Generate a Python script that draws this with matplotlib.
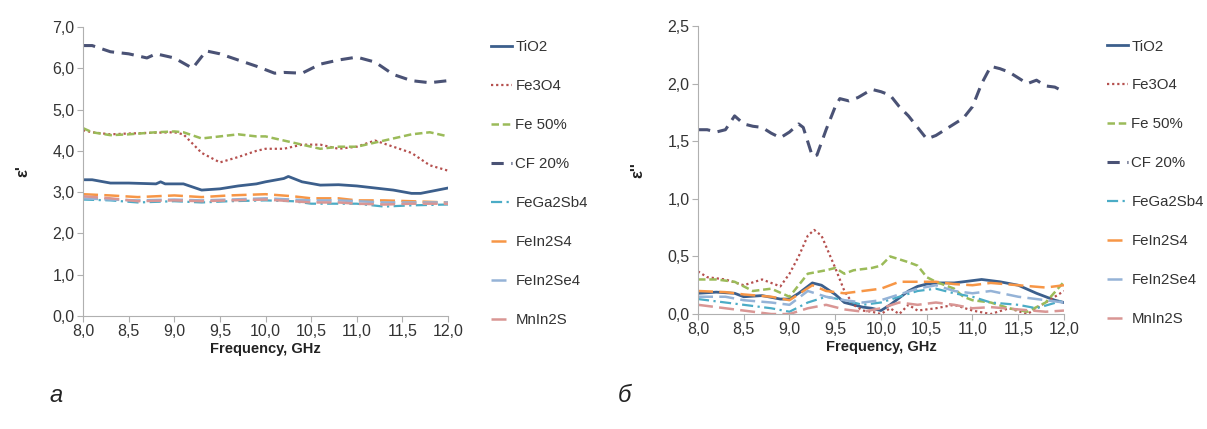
import matplotlib

matplotlib.use("Agg")
import matplotlib.pyplot as plt
from matplotlib.ticker import FuncFormatter

plt.rcParams["font.family"] = ["Liberation Sans Narrow", "Liberation Sans", "DejaVu Sans"]

SERIES = ["TiO2", "Fe3O4", "Fe 50%", "CF 20%", "FeGa2Sb4", "FeIn2S4", "FeIn2Se4", "MnIn2S"]

# eps' (left panel)
re_freq = {
    "TiO2": [8.0, 8.1, 8.3, 8.5, 8.8, 8.85, 8.9, 9.1, 9.3, 9.5, 9.7, 9.9, 10.0, 10.2, 10.25,
             10.4, 10.6, 10.8, 11.0, 11.2, 11.4, 11.6, 11.7, 12.0],
    "Fe3O4": [8.0, 8.1, 8.3, 8.5, 8.8, 9.0, 9.1, 9.3, 9.5, 9.7, 9.9, 10.0, 10.2, 10.4, 10.6,
              10.8, 11.0, 11.2, 11.4, 11.6, 11.8, 12.0],
    "Fe 50%": [8.0, 8.1, 8.3, 8.5, 8.8, 9.0, 9.1, 9.3, 9.5, 9.7, 9.9, 10.0, 10.2, 10.4, 10.6,
               10.8, 11.0, 11.2, 11.4, 11.6, 11.8, 12.0],
    "CF 20%": [8.0, 8.1, 8.3, 8.5, 8.7, 8.8, 9.0, 9.2, 9.35, 9.5, 9.7, 9.9, 10.1, 10.2, 10.4,
               10.6, 10.8, 11.0, 11.2, 11.4, 11.6, 11.8, 12.0],
    "FeGa2Sb4": [8.0, 8.3, 8.6, 9.0, 9.3, 9.6, 10.0, 10.3, 10.5, 10.8, 11.0, 11.3, 11.6, 12.0],
    "FeIn2S4": [8.0, 8.3, 8.6, 9.0, 9.3, 9.6, 10.0, 10.3, 10.5, 10.8, 11.0, 11.3, 11.6, 12.0],
    "FeIn2Se4": [8.0, 8.3, 8.6, 9.0, 9.3, 9.6, 10.0, 10.3, 10.5, 10.8, 11.0, 11.3, 11.6, 12.0],
    "MnIn2S": [8.0, 8.3, 8.6, 9.0, 9.3, 9.6, 10.0, 10.3, 10.5, 10.8, 11.0, 11.3, 11.6, 12.0],
}
re_vals = {
    "TiO2": [3.3, 3.3, 3.22, 3.22, 3.2, 3.25, 3.2, 3.2, 3.05, 3.08, 3.15, 3.2, 3.25, 3.33, 3.38,
             3.25, 3.17, 3.18, 3.15, 3.1, 3.05, 2.97, 2.97, 3.1],
    "Fe3O4": [4.5, 4.45, 4.4, 4.42, 4.44, 4.45, 4.4, 3.95, 3.72, 3.85, 4.0, 4.05, 4.05, 4.15,
              4.15, 4.05, 4.1, 4.25, 4.1, 3.95, 3.65, 3.52],
    "Fe 50%": [4.55, 4.45, 4.38, 4.4, 4.45, 4.47, 4.45, 4.3, 4.35, 4.4, 4.35, 4.35, 4.25, 4.15,
               4.05, 4.1, 4.1, 4.2, 4.3, 4.4, 4.45, 4.35],
    "CF 20%": [6.55, 6.55, 6.4, 6.35, 6.25, 6.35, 6.25, 6.0, 6.42, 6.35, 6.2, 6.05, 5.88, 5.9,
               5.88, 6.1, 6.2, 6.27, 6.15, 5.85, 5.7, 5.65, 5.7],
    "FeGa2Sb4": [2.82, 2.8, 2.75, 2.78, 2.75, 2.78, 2.8, 2.78, 2.72, 2.72, 2.72, 2.65, 2.68, 2.7],
    "FeIn2S4": [2.95, 2.92, 2.88, 2.92, 2.88, 2.92, 2.95, 2.9, 2.85, 2.85, 2.8, 2.8, 2.78, 2.75],
    "FeIn2Se4": [2.85, 2.82, 2.8, 2.82, 2.8, 2.82, 2.85, 2.82, 2.8, 2.8, 2.78, 2.75, 2.75, 2.75],
    "MnIn2S": [2.9, 2.85, 2.78, 2.8, 2.78, 2.8, 2.82, 2.78, 2.75, 2.75, 2.72, 2.7, 2.72, 2.72],
}

# eps'' (right panel)
im_freq = {
    "TiO2": [8.0, 8.2, 8.4, 8.5, 8.7, 8.9, 9.0, 9.1, 9.25, 9.35, 9.5, 9.6, 9.7, 9.8, 9.9, 10.0,
             10.1, 10.2, 10.3, 10.4, 10.5, 10.6, 10.8, 11.0, 11.1, 11.3, 11.5, 11.7, 11.9, 12.0],
    "Fe3O4": [8.0, 8.1, 8.3, 8.5, 8.7, 8.9, 9.0, 9.1, 9.2, 9.27, 9.35, 9.5, 9.6, 9.7, 9.8, 9.9,
              10.0, 10.1, 10.2, 10.3, 10.4, 10.6, 10.8, 11.0, 11.2, 11.4, 11.6, 11.8, 12.0],
    "Fe 50%": [8.0, 8.2, 8.4, 8.6, 8.8, 9.0, 9.1, 9.2, 9.4, 9.5, 9.6, 9.7, 9.9, 10.0, 10.1,
               10.3, 10.4, 10.5, 10.6, 10.8, 10.9, 11.0, 11.2, 11.4, 11.6, 11.8, 12.0],
    "CF 20%": [8.0, 8.1, 8.2, 8.3, 8.4, 8.5, 8.6, 8.7, 8.8, 8.9, 9.0, 9.1, 9.15, 9.25, 9.3,
               9.4, 9.5, 9.55, 9.65, 9.75, 9.9, 10.0, 10.1, 10.2, 10.3, 10.4, 10.5, 10.6, 10.7,
               10.8, 10.9, 11.0, 11.1, 11.2, 11.3, 11.4, 11.5, 11.6, 11.7, 11.8, 11.9, 12.0],
    "FeGa2Sb4": [8.0, 8.3, 8.5, 8.8, 9.0, 9.2, 9.4, 9.6, 9.8, 10.0, 10.2, 10.4, 10.6, 10.8,
                 11.0, 11.2, 11.5, 11.7, 12.0],
    "FeIn2S4": [8.0, 8.3, 8.5, 8.8, 9.0, 9.25, 9.4, 9.6, 9.8, 10.0, 10.2, 10.4, 10.6, 10.8,
                11.0, 11.2, 11.5, 11.8, 12.0],
    "FeIn2Se4": [8.0, 8.3, 8.5, 8.8, 9.0, 9.2, 9.4, 9.6, 9.8, 10.0, 10.2, 10.4, 10.6, 10.8,
                 11.0, 11.2, 11.5, 11.8, 12.0],
    "MnIn2S": [8.0, 8.3, 8.5, 8.8, 9.0, 9.2, 9.4, 9.6, 9.8, 10.0, 10.2, 10.4, 10.6, 10.8,
               11.0, 11.2, 11.5, 11.8, 12.0],
}
im_vals = {
    "TiO2": [0.18, 0.19, 0.18, 0.15, 0.16, 0.13, 0.13, 0.18, 0.27, 0.25, 0.17, 0.1, 0.08, 0.06,
             0.05, 0.03, 0.08, 0.14, 0.2, 0.24, 0.26, 0.27, 0.27, 0.29, 0.3, 0.28, 0.25, 0.18,
             0.12, 0.1],
    "Fe3O4": [0.37, 0.32, 0.3, 0.25, 0.3, 0.24, 0.35, 0.5, 0.68, 0.73, 0.68, 0.4, 0.2, 0.08,
              0.03, 0.02, 0.0, 0.05, 0.0, 0.08, 0.03, 0.05, 0.08, 0.03, 0.0, 0.05, 0.0, 0.1,
              0.2],
    "Fe 50%": [0.3, 0.3, 0.28, 0.2, 0.22, 0.15, 0.25, 0.35, 0.38, 0.4, 0.35, 0.38, 0.4, 0.42,
               0.5, 0.45, 0.42, 0.32, 0.28, 0.22, 0.15, 0.12, 0.1, 0.05, 0.02, 0.1, 0.28],
    "CF 20%": [1.6, 1.6, 1.58, 1.6, 1.72, 1.65, 1.63, 1.62, 1.57, 1.53, 1.58, 1.65, 1.62, 1.37,
               1.38, 1.6, 1.8, 1.87, 1.85, 1.88, 1.95, 1.93, 1.9, 1.8, 1.72, 1.62, 1.52, 1.55,
               1.6, 1.65, 1.7, 1.8, 2.0, 2.15, 2.13, 2.1, 2.05, 2.0, 2.03, 1.98, 1.97, 1.93],
    "FeGa2Sb4": [0.13, 0.1, 0.08, 0.05, 0.02, 0.1, 0.15, 0.12, 0.08, 0.1, 0.15, 0.2, 0.22,
                 0.18, 0.15, 0.1, 0.08, 0.05, 0.12],
    "FeIn2S4": [0.2, 0.19, 0.17, 0.15, 0.12, 0.25, 0.2, 0.18, 0.2, 0.22, 0.28, 0.28, 0.28,
                0.26, 0.25, 0.27, 0.25, 0.23, 0.25],
    "FeIn2Se4": [0.15, 0.15, 0.12, 0.1, 0.08, 0.2, 0.15, 0.12, 0.1, 0.12, 0.17, 0.22, 0.25,
                 0.2, 0.18, 0.2, 0.15, 0.12, 0.1],
    "MnIn2S": [0.08, 0.05, 0.03, 0.0, 0.0, 0.05, 0.08, 0.04, 0.02, 0.05, 0.1, 0.08, 0.1, 0.08,
               0.05, 0.06, 0.04, 0.02, 0.03],
}

x_ticks = [8.0, 8.5, 9.0, 9.5, 10.0, 10.5, 11.0, 11.5, 12.0]
re_ticks = [0, 1, 2, 3, 4, 5, 6, 7]
im_ticks = [0, 0.5, 1.0, 1.5, 2.0, 2.5]

STYLES = {
    "TiO2": dict(color="#3c5f8c", linestyle="-", linewidth=2.0),
    "Fe3O4": dict(color="#b5504e", linestyle=(0, (1, 1.3)), linewidth=1.6),
    "Fe 50%": dict(color="#9bbb59", linestyle=(0, (3, 1.5)), linewidth=1.8),
    "CF 20%": dict(color="#4a5275", linestyle=(0, (4, 2.5)), linewidth=2.2),
    "FeGa2Sb4": dict(color="#4bacc6", linestyle=(0, (5, 2, 1, 2)), linewidth=1.6),
    "FeIn2S4": dict(color="#f79646", linestyle=(0, (6, 2.5)), linewidth=1.8),
    "FeIn2Se4": dict(color="#95b3d7", linestyle=(0, (6, 2.5)), linewidth=1.8),
    "MnIn2S": dict(color="#d99694", linestyle=(0, (6, 2.5)), linewidth=1.8),
}

comma = FuncFormatter(lambda v, _: f"{v:.1f}".replace(".", ","))


def style_axes(ax, yticks, ylabel):
    for side in ("top", "right"):
        ax.spines[side].set_visible(False)
    for side in ("left", "bottom"):
        ax.spines[side].set_color("#b0b0b0")
    ax.tick_params(colors="#b0b0b0", labelcolor="#333333", labelsize=11.5, length=4,
                   direction="out", pad=2)
    ax.set_xlim(8.0, 12.0)
    ax.set_xticks(x_ticks)
    ax.set_yticks(yticks)
    ax.set_ylim(yticks[0], yticks[-1])
    ax.xaxis.set_major_formatter(comma)
    ax.yaxis.set_major_formatter(comma)
    ax.set_xlabel("Frequency, GHz", fontsize=10.5, fontweight="bold", color="#222222", labelpad=2)
    ax.set_ylabel(ylabel, fontsize=12, fontweight="bold", color="#222222", labelpad=16)
    ax.legend(loc="upper left", bbox_to_anchor=(1.08, 1.0), frameon=False, fontsize=10.8,
              handlelength=1.4, handletextpad=0.25, labelspacing=1.66, labelcolor="#333333")


fig = plt.figure(figsize=(12.07, 4.29), dpi=100)
ax1 = fig.add_axes([0.0688, 0.2634, 0.3024, 0.6737])
ax2 = fig.add_axes([0.5783, 0.268, 0.3032, 0.6713])

for name in SERIES:
    ax1.plot(re_freq[name], re_vals[name], label=name, **STYLES[name])
    ax2.plot(im_freq[name], im_vals[name], label=name, **STYLES[name])

style_axes(ax1, re_ticks, "ε'")
style_axes(ax2, im_ticks, "ε''")

fig.text(0.041, 0.064, "a", fontsize=17, style="italic", color="#222222")
fig.text(0.512, 0.064, "б", fontsize=17, style="italic", color="#222222")

fig.savefig("out.png", dpi=100)
